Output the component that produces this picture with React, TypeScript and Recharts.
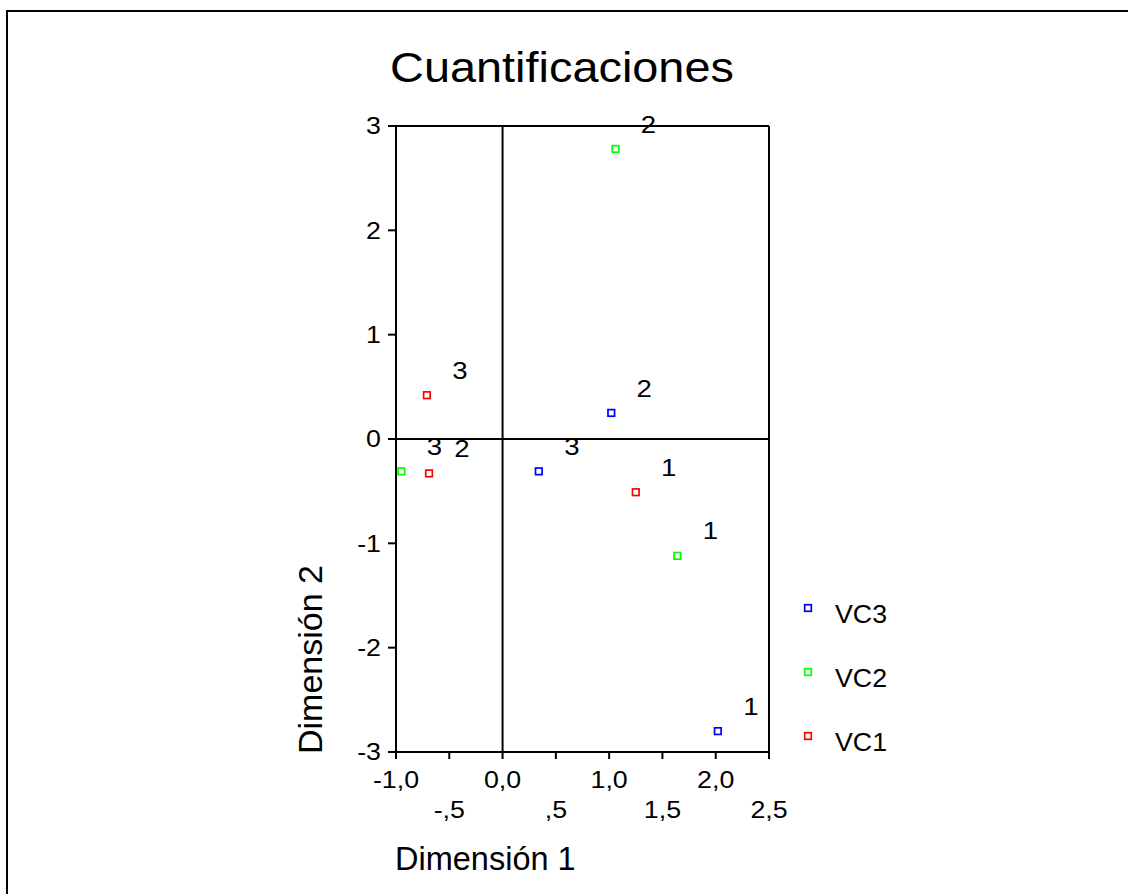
import React from 'react';
import { ScatterChart, Scatter, XAxis, YAxis, ReferenceLine, Legend, Customized } from 'recharts';

const FONT = '"Liberation Sans", Arial, sans-serif';

const categories = ['1', '2', '3'];
const vc1X = [1.25, -0.69, -0.71];
const vc1Y = [-0.51, -0.33, 0.42];
const vc2X = [1.64, 1.06, -0.95];
const vc2Y = [-1.12, 2.78, -0.31];
const vc3X = [2.02, 1.02, 0.34];
const vc3Y = [-2.8, 0.25, -0.31];

const seriesNames = ['VC3', 'VC2', 'VC1'];
const seriesColors = ['#0000ff', '#00ff00', '#ff0000'];

const xTicks = [-1, -0.5, 0, 0.5, 1, 1.5, 2, 2.5];
const xTickLabels = ['-1,0', '-,5', '0,0', ',5', '1,0', '1,5', '2,0', '2,5'];
const yTicks = [-3, -2, -1, 0, 1, 2, 3];
const yTickLabels = ['-3', '-2', '-1', '0', '1', '2', '3'];

const toPoints = (xs: number[], ys: number[]) =>
  categories.map((c, i) => ({ x: xs[i], y: ys[i], label: c }));

const seriesData = [toPoints(vc3X, vc3Y), toPoints(vc2X, vc2Y), toPoints(vc1X, vc1Y)];

const makeShape = (color: string) => (props: any) => {
  const { cx, cy, payload } = props;
  if (cx == null || cy == null) return <g />;
  return (
    <g>
      <rect x={cx - 3.3} y={cy - 3.3} width={6.6} height={6.6} fill="none" stroke={color} strokeWidth={1.7} />
      <g transform={`translate(${cx + 33},${cy - 25}) scale(1.15,1)`}>
        <text x={0} y={0} dy="0.36em" textAnchor="middle" fontSize={24} fontFamily={FONT} fill="#000">
          {payload.label}
        </text>
      </g>
    </g>
  );
};

const XTick = (props: any) => {
  const { x, y, index } = props;
  const row = index % 2;
  return (
    <g transform={`translate(${x},${y + (row ? 57 : 27)}) scale(1.14,1)`}>
      <text x={0} y={0} textAnchor="middle" fontSize={23.5} fontFamily={FONT} fill="#000">
        {xTickLabels[index]}
      </text>
    </g>
  );
};

const YTick = (props: any) => {
  const { x, y, index } = props;
  return (
    <g transform={`translate(${x},${y}) scale(1.14,1)`}>
      <text x={0} y={0} dy="0.36em" textAnchor="end" fontSize={23.5} fontFamily={FONT} fill="#000">
        {yTickLabels[index]}
      </text>
    </g>
  );
};

const Texts = () => (
  <g>
    <g transform="translate(562,82) scale(1.09,1)">
      <text x={0} y={0} textAnchor="middle" fontSize={43} fontFamily={FONT} fill="#000">
        Cuantificaciones
      </text>
    </g>
    <text x={395} y={870} textAnchor="start" fontSize={32.5} fontFamily={FONT} fill="#000">
      Dimensión 1
    </text>
    <text x={0} y={0} transform="translate(322,754) rotate(-90)" textAnchor="start" fontSize={34} fontFamily={FONT} fill="#000">
      Dimensión 2
    </text>
  </g>
);

const LegendContent = (props: any) => {
  const payload = props.payload || [];
  const ordered = seriesNames
    .map((n) => payload.find((p: any) => p.value === n))
    .filter(Boolean);
  return (
    <svg width={140} height={170}>
      {ordered.map((p: any, i: number) => (
        <g key={i}>
          <rect x={13 - 3.3} y={13 + 64 * i - 3.3} width={6.6} height={6.6} fill="none" stroke={p.color} strokeWidth={1.7} />
          <g transform={`translate(40,${28 + 64 * i}) scale(1.07,1)`}>
            <text x={0} y={0} fontSize={25} fontFamily={FONT} fill="#000">
              {p.value}
            </text>
          </g>
        </g>
      ))}
    </svg>
  );
};

export default function App() {
  return (
    <div style={{ position: 'absolute', left: 0, top: 0, width: 1128, height: 894, background: '#fff', fontFamily: FONT }}>
      <div
        style={{
          position: 'absolute',
          left: 6,
          top: 10,
          width: 1122,
          height: 884,
          borderTop: '2px solid #000',
          borderLeft: '2px solid #000',
          boxSizing: 'border-box',
        }}
      />
      <div style={{ position: 'absolute', left: 0, top: 0 }}>
        <ScatterChart width={1128} height={894} margin={{ top: 126, right: 359, bottom: 62, left: 336 }}>
          <XAxis
            type="number"
            dataKey="x"
            domain={[-1, 2.5]}
            ticks={xTicks}
            interval={0}
            height={80}
            tickSize={7}
            tickMargin={2}
            tick={<XTick />}
            axisLine={{ stroke: '#000', strokeWidth: 2 }}
            tickLine={{ stroke: '#000', strokeWidth: 2 }}
          />
          <YAxis
            type="number"
            dataKey="y"
            domain={[-3, 3]}
            ticks={yTicks}
            interval={0}
            width={60}
            tickSize={8}
            tickMargin={7}
            tick={<YTick />}
            axisLine={{ stroke: '#000', strokeWidth: 2 }}
            tickLine={{ stroke: '#000', strokeWidth: 2 }}
          />
          <ReferenceLine x={0} stroke="#000" strokeWidth={2} />
          <ReferenceLine y={0} stroke="#000" strokeWidth={2} />
          <ReferenceLine x={2.5} stroke="#000" strokeWidth={2} />
          <ReferenceLine y={3} stroke="#000" strokeWidth={2} />
          {seriesNames.map((name, i) => (
            <Scatter
              key={name}
              name={name}
              data={seriesData[i]}
              fill={seriesColors[i]}
              stroke={seriesColors[i]}
              shape={makeShape(seriesColors[i])}
              isAnimationActive={false}
            />
          ))}
          <Legend
            layout="vertical"
            align="center"
            verticalAlign="middle"
            wrapperStyle={{ left: 795, top: 595, width: 140, height: 170 }}
            content={<LegendContent />}
          />
          <Customized component={Texts} />
        </ScatterChart>
      </div>
    </div>
  );
}
